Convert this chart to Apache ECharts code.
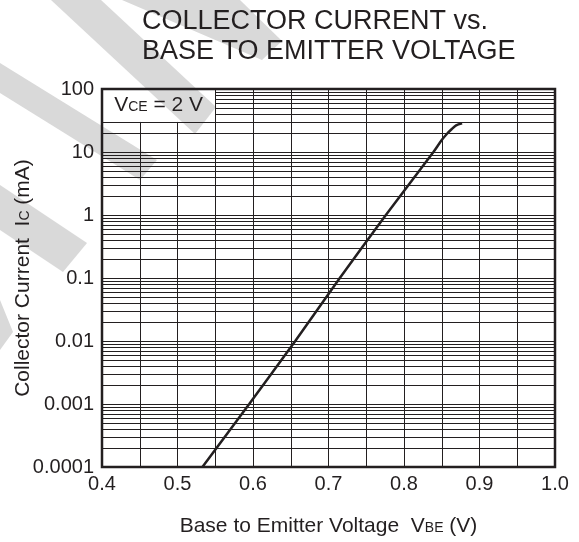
<!DOCTYPE html>
<html>
<head>
<meta charset="utf-8">
<script src="https://cdn.jsdelivr.net/npm/echarts@6/dist/echarts.min.js"></script>
<style>
html,body{margin:0;padding:0;background:#fff;}
#chart{width:579px;height:542px;}
</style>
</head>
<body>
<div id="chart"></div>
<script>
// ---- data ----
const vbe = [0.533, 0.595, 0.656, 0.715, 0.776, 0.839, 0.850, 0.857, 0.863, 0.869, 0.877];
const ic  = [0.0001, 0.001, 0.01, 0.1, 1, 10, 15.5, 19.5, 23, 26.5, 28.5];
const xTickLabels = ['0.4', '0.5', '0.6', '0.7', '0.8', '0.9', '1.0'];
const yTickLabels = ['0.0001', '0.001', '0.01', '0.1', '1', '10', '100'];
const decades = [0.0001, 0.001, 0.01, 0.1, 1, 10];
const minorMultipliers = [1, 2, 3, 4, 5, 6, 7, 8, 9];
const xGrid = [0.45, 0.5, 0.55, 0.6, 0.65, 0.7, 0.75, 0.8, 0.85, 0.9, 0.95];
const titleLines = ['COLLECTOR CURRENT vs.', 'BASE TO EMITTER VOLTAGE'];

const X_MIN = 0.4, X_MAX = 1.0, Y_MIN = 0.0001, Y_MAX = 100;
// annotation box region (hides grid) : x 0.4-0.55, y 30-100
const BOX = {x0: 0.4, x1: 0.55, y0: 30, y1: 100};

const gridLines = [];
decades.forEach(d => {
  minorMultipliers.forEach(m => {
    const v = +(d * m).toPrecision(3);
    if (v <= Y_MIN) return;
    const inBox = v > BOX.y0 && v < BOX.y1;
    gridLines.push([{coord: [inBox ? BOX.x1 : X_MIN, v]}, {coord: [X_MAX, v]}]);
  });
});
xGrid.forEach(x => {
  const inBox = x > BOX.x0 && x < BOX.x1;
  gridLines.push([{coord: [x, Y_MIN]}, {coord: [x, inBox ? BOX.y0 : Y_MAX]}]);
});

const FONT = '"Liberation Sans", Arial, Helvetica, sans-serif';
const INK = '#231f20';
const chart = echarts.init(document.getElementById('chart'), null, {renderer: 'canvas'});

const wm = '#d9d9d9';
const wmPolys = [
  [[51,0],[101,0],[216,107],[195,134]],
  [[0,63],[157,160],[140,180],[0,93]],
  [[0,185],[87,243],[63,272],[0,230]],
  [[0,300],[13,332],[0,350]],
  [[122,0],[240,0],[282,41],[262,60]]
];
chart.setOption({
  backgroundColor: '#fff',
  animation: false,
  title: {
    text: titleLines.join('\n'),
    left: 137, top: 2,
    textStyle: {fontFamily: FONT, fontSize: 27, fontWeight: 'normal', color: INK, lineHeight: 30}
  },
  graphic: {
    elements: wmPolys.map((p, i) => ({
      type: 'polygon', id: 'wm' + i, z: -10, silent: true,
      shape: {points: p}, style: {fill: wm}
    }))
  },
  grid: {
    left: 102, right: 24, top: 89, bottom: 75,
    outerBoundsMode: 'none', containLabel: false,
    show: true, backgroundColor: 'transparent', borderColor: INK, borderWidth: 2.5
  },
  xAxis: {
    type: 'value', min: X_MIN, max: X_MAX, interval: 0.1,
    name: '{n|Base to Emitter Voltage  V}{s|BE}{n| (V)}',
    nameLocation: 'middle', nameGap: 49, nameMoveOverlap: false,
    nameTextStyle: {rich: {
      n: {fontFamily: FONT, fontSize: 21, color: INK},
      s: {fontFamily: FONT, fontSize: 14, color: INK, padding: [4, 0, 0, 0]}
    }},
    axisLine: {show: false},
    axisTick: {show: false},
    splitLine: {show: false},
    axisLabel: {
      margin: 7, fontFamily: FONT, fontSize: 20, color: INK,
      formatter: v => xTickLabels[Math.round((v - X_MIN) * 10)] || ''
    }
  },
  yAxis: {
    type: 'log', logBase: 10, min: Y_MIN, max: Y_MAX,
    name: '{n|Collector Current  I}{s|C}{n| (mA)}',
    nameLocation: 'middle', nameGap: 68, nameRotate: 90, nameMoveOverlap: false,
    nameTextStyle: {rich: {
      n: {fontFamily: FONT, fontSize: 21, color: INK},
      s: {fontFamily: FONT, fontSize: 14, color: INK, padding: [4, 0, 0, 0]}
    }},
    axisLine: {show: false},
    axisTick: {show: false},
    splitLine: {show: false},
    axisLabel: {
      margin: 8, fontFamily: FONT, fontSize: 20, color: INK,
      formatter: v => yTickLabels[Math.round(Math.log10(v)) + 4] || ''
    }
  },
  series: [
    {
      type: 'line', z: 1, silent: true, symbol: 'none',
      data: [[X_MIN, Y_MAX]],
      lineStyle: {opacity: 0},
      markLine: {
        silent: true, symbol: 'none', animation: false,
        label: {show: false},
        lineStyle: {color: INK, width: 1, type: 'solid'},
        emphasis: {disabled: true},
        data: gridLines
      },
      markArea: {
        silent: true,
        itemStyle: {color: 'rgba(0,0,0,0)'},
        label: {
          show: true, position: 'inside',
          formatter: '{n|V}{s|CE}{n| = 2 V}',
          rich: {
            n: {fontFamily: FONT, fontSize: 21, color: INK},
            s: {fontFamily: FONT, fontSize: 14, color: INK, padding: [4, 0, 0, 0]}
          }
        },
        data: [[{coord: [BOX.x0, BOX.y0]}, {coord: [BOX.x1, BOX.y1]}]]
      }
    },
    {
      type: 'line', z: 5, symbol: 'none', smooth: 0.3,
      data: vbe.map((v, i) => [v, ic[i]]),
      lineStyle: {color: INK, width: 2.5}
    }
  ]
});
</script>
</body>
</html>
